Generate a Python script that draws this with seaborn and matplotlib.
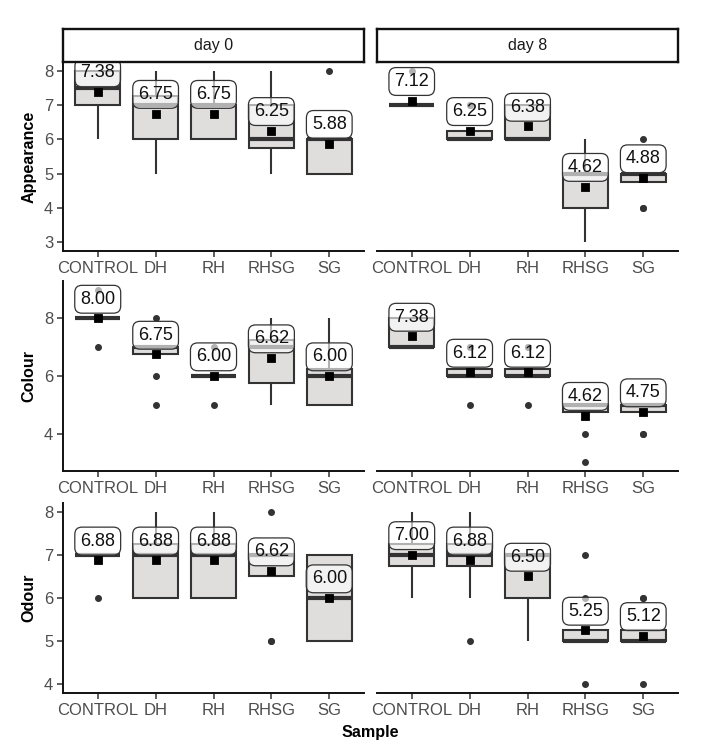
import numpy as np
import pandas as pd
import matplotlib
matplotlib.use("Agg")
import matplotlib.pyplot as plt
import seaborn as sns

# sensory scores (8 panellists per sample), read back from the box plots
samples = ["CONTROL", "DH", "RH", "RHSG", "SG"]
days = ["day 0", "day 8"]
attributes = ["Appearance", "Colour", "Odour"]

appearance_day0 = [[6, 7, 7, 7, 8, 8, 8, 8], [5, 6, 6, 7, 7, 7, 8, 8], [6, 6, 6, 7, 7, 7, 7, 8],
                   [5, 5, 6, 6, 6, 7, 7, 8], [5, 5, 5, 6, 6, 6, 6, 8]]
appearance_day8 = [[7, 7, 7, 7, 7, 7, 7, 8], [6, 6, 6, 6, 6, 6, 7, 7], [6, 6, 6, 6, 6, 7, 7, 7],
                   [3, 4, 4, 5, 5, 5, 5, 6], [4, 4, 5, 5, 5, 5, 5, 6]]
colour_day0 = [[7, 8, 8, 8, 8, 8, 8, 9], [5, 6, 7, 7, 7, 7, 7, 8], [5, 6, 6, 6, 6, 6, 6, 7],
               [5, 5, 6, 7, 7, 7, 8, 8], [5, 5, 5, 6, 6, 6, 7, 8]]
colour_day8 = [[7, 7, 7, 7, 7, 8, 8, 8], [5, 6, 6, 6, 6, 6, 7, 7], [5, 6, 6, 6, 6, 6, 7, 7],
               [3, 4, 5, 5, 5, 5, 5, 5], [4, 4, 5, 5, 5, 5, 5, 5]]
odour_day0 = [[6, 7, 7, 7, 7, 7, 7, 7], [6, 6, 6, 7, 7, 7, 8, 8], [6, 6, 6, 7, 7, 7, 8, 8],
              [5, 5, 7, 7, 7, 7, 7, 8], [5, 5, 5, 6, 6, 7, 7, 7]]
odour_day8 = [[6, 6, 7, 7, 7, 7, 8, 8], [5, 6, 7, 7, 7, 7, 8, 8], [5, 6, 6, 7, 7, 7, 7, 7],
              [4, 5, 5, 5, 5, 5, 6, 7], [4, 5, 5, 5, 5, 5, 6, 6]]

y_ticks = {"Appearance": [3, 4, 5, 6, 7, 8], "Colour": [4, 6, 8], "Odour": [4, 5, 6, 7, 8]}

scores = {
    ("Appearance", "day 0"): appearance_day0, ("Appearance", "day 8"): appearance_day8,
    ("Colour", "day 0"): colour_day0, ("Colour", "day 8"): colour_day8,
    ("Odour", "day 0"): odour_day0, ("Odour", "day 8"): odour_day8,
}

rows = []
for (attr, day), groups in scores.items():
    for s, vals in zip(samples, groups):
        for v in vals:
            rows.append({"attribute": attr, "day": day, "Sample": s, "score": v})
df = pd.DataFrame(rows)

sns.set_style("white")
plt.rcParams["font.family"] = ["Liberation Sans", "DejaVu Sans"]

W, H = 712, 754
fig = plt.figure(figsize=(W / 100, H / 100), dpi=100)
fig.patch.set_facecolor("white")

edge = "#333333"
fill = "#e0dedd"
col_x = [63, 377]
panel_w = 301
row_y = [(62, 251), (281, 471), (503, 693)]

for i, attr in enumerate(attributes):
    sub_attr = df[df.attribute == attr]
    lo, hi = sub_attr.score.min(), sub_attr.score.max()
    pad = (hi - lo) * 0.05
    top, bot = row_y[i]
    for j, day in enumerate(days):
        ax = fig.add_axes([col_x[j] / W, (H - bot) / H, panel_w / W, (bot - top) / H])
        sub = sub_attr[sub_attr.day == day]
        sns.boxplot(data=sub, x="Sample", y="score", order=samples, color=fill, saturation=1,
                    linecolor=edge, linewidth=1.5, width=0.77, showcaps=False,
                    medianprops=dict(linewidth=3, color=edge),
                    flierprops=dict(marker="o", markersize=4, markerfacecolor=edge,
                                    markeredgecolor=edge), ax=ax)
        sns.pointplot(data=sub, x="Sample", y="score", order=samples, estimator="mean",
                      errorbar=None, color="black", markers="s", linestyles="none",
                      markersize=5, ax=ax, zorder=4)
        means = sub.groupby("Sample")["score"].mean().reindex(samples)
        for k, m in enumerate(means):
            ax.annotate(f"{m:.2f}", (k, m), xytext=(0, 13.8), textcoords="offset points",
                        ha="center", va="center", fontsize=13, color="#111111", zorder=5,
                        annotation_clip=False, clip_on=True,
                        bbox=dict(boxstyle="round,pad=0.3,rounding_size=0.4",
                                  fc=(1, 1, 1, 0.62), ec=edge, lw=0.9))
        ax.set_xlim(-0.6, 4.6)
        ax.set_ylim(lo - pad, hi + pad)
        ax.set_yticks(y_ticks[attr])
        ax.set_xlabel("")
        ax.set_ylabel("")
        ax.set_facecolor("white")
        for s in ["top", "right"]:
            ax.spines[s].set_visible(False)
        ax.spines["bottom"].set_color("#111111")
        ax.spines["bottom"].set_linewidth(1.4)
        ax.spines["left"].set_color("#111111")
        ax.spines["left"].set_linewidth(1.4)
        ax.tick_params(axis="both", length=4.5, width=1.1, color="#333333",
                       labelsize=12, labelcolor="#4d4d4d", pad=2.5)
        ax.tick_params(axis="x", bottom=True)
        ax.tick_params(axis="y", left=True)
        if j == 1:
            ax.spines["left"].set_visible(False)
            ax.tick_params(axis="y", left=False, labelleft=False)
        if i == 0:
            sax = fig.add_axes([col_x[j] / W, (H - 62) / H, panel_w / W, 33 / H])
            sax.set_xticks([])
            sax.set_yticks([])
            sax.set_facecolor("white")
            for s in sax.spines.values():
                s.set_linewidth(1.7)
                s.set_color("#111111")
            sax.text(0.5, 0.5, day, ha="center", va="center", fontsize=11.5,
                     color="#1a1a1a", transform=sax.transAxes)
    fig.text(29 / W, 1 - (top + bot) / 2 / H, attr, rotation=90, ha="center", va="center",
             fontsize=11.6, fontweight="bold", color="black")

fig.text(370 / W, 1 - 733 / H, "Sample", ha="center", va="center", fontsize=11.6,
         fontweight="bold", color="black")

fig.savefig("out.png", dpi=100, facecolor="white")
